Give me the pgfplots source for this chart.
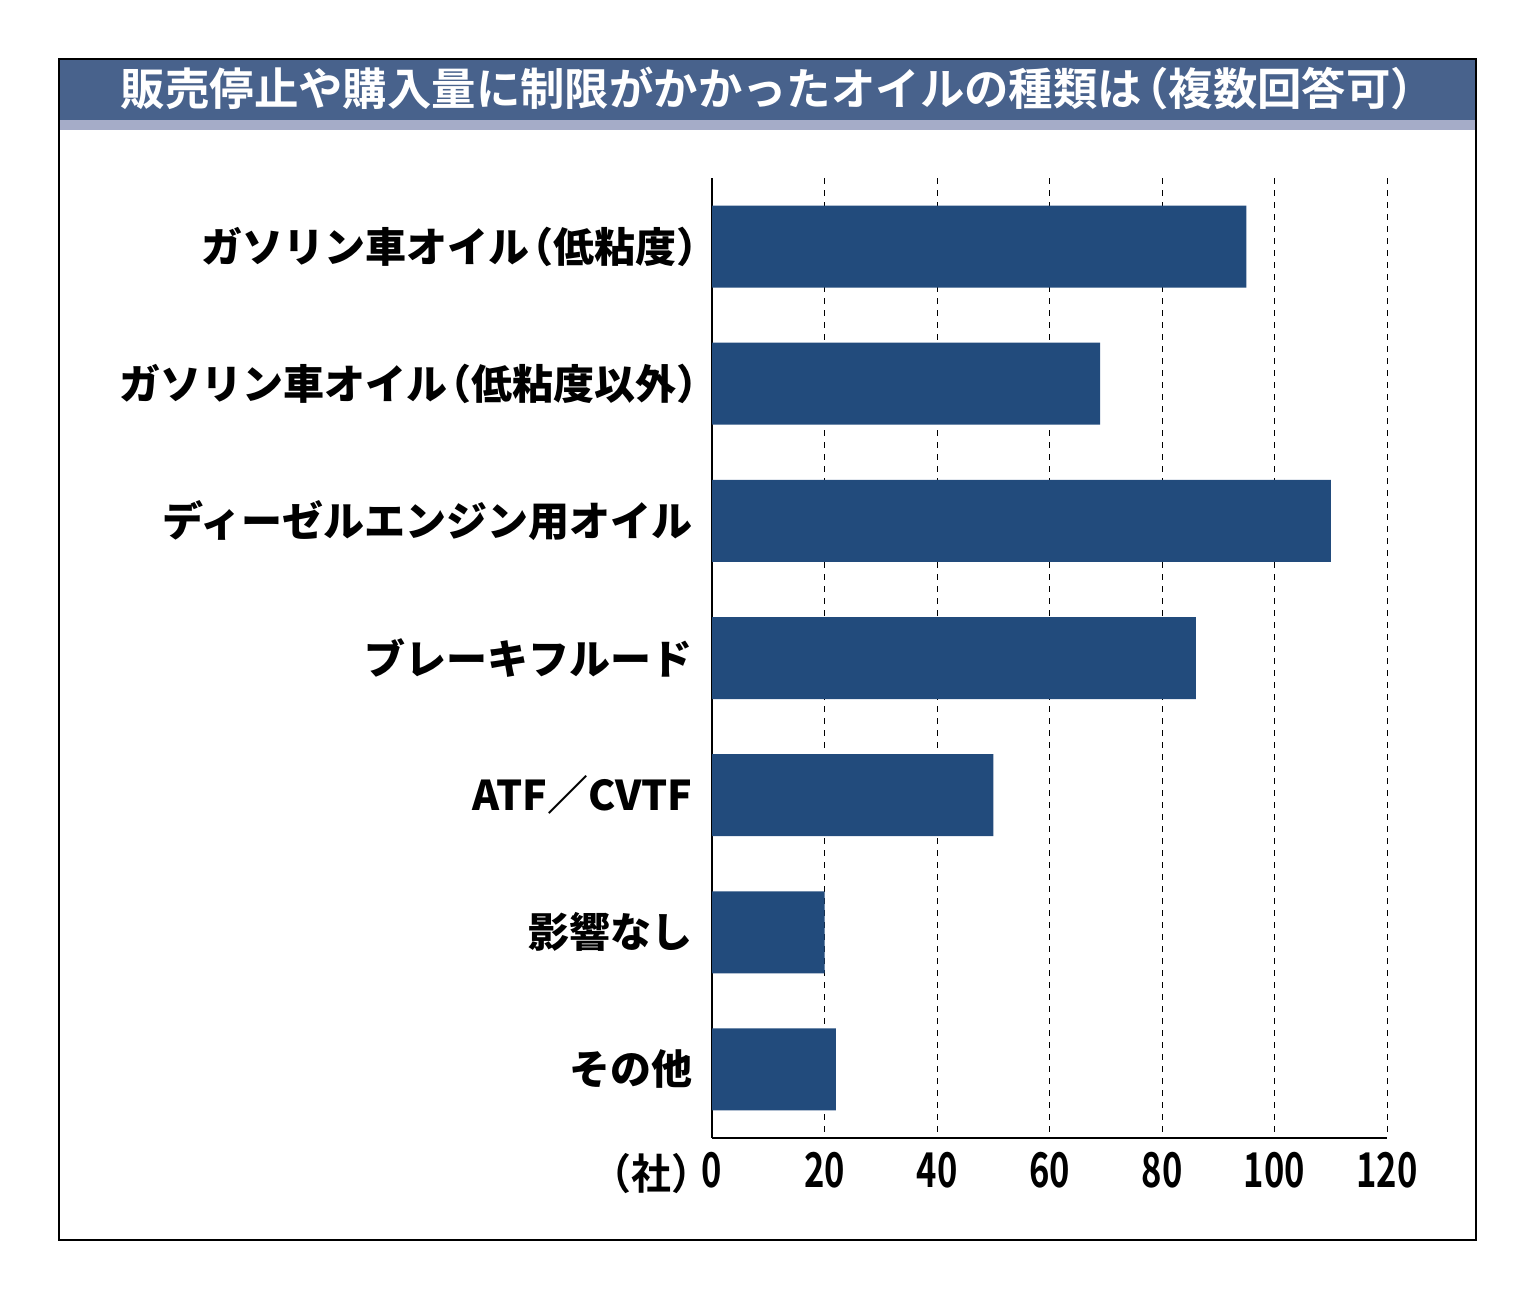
\documentclass[border=0pt]{standalone}
\usepackage{pgfplots}
\pgfplotsset{compat=1.18}
\usepackage{fontspec}
\setmainfont{Noto Sans CJK JP}
\newfontfamily\cjkb{Noto Sans CJK JP Bold}
\newfontfamily\cjkbh{Noto Sans CJK JP Bold}[RawFeature=+halt]
\newfontfamily\cjkk{Noto Sans CJK JP Black}
\definecolor{barblue}{RGB}{34,75,124}
\definecolor{titleblue}{RGB}{72,98,140}
\definecolor{titlelight}{RGB}{165,172,200}
\newcommand{\lp}{\kern-0.42em（}
\newcommand{\rp}{）\kern-0.6em}
\begin{document}
\begin{tikzpicture}[x=1pt,y=1pt]
\path[use as bounding box] (0,0) rectangle (767.5,649.5);
% title band
\fill[titleblue] (29.5,589.5) rectangle (738,620);
\fill[titlelight] (29.5,584.5) rectangle (738,589.5);
\draw[black,line width=0.8pt] (29.5,29.5) rectangle (738,620);
\node[white,font=\cjkb\fontsize{22.2}{24}\selectfont,inner sep=0pt] at (389,605) {販売停止や購入量に制限がかかったオイルの種類は\kern-0.4em（複数回答可）};
\begin{axis}[
  at={(356pt,80.5pt)}, anchor=south west,
  width=337.5pt, height=480pt, scale only axis,
  xmin=0, xmax=120, ymin=-0.5, ymax=6.5, y dir=reverse,
  axis x line=bottom, axis y line=left,
  axis line style={-, line width=0.8pt},
  xtick={0,20,40,60,80,100,120},
  ytick={0,1,2,3,4,5,6},
  yticklabels={ガソリン車オイル\lp 低粘度\rp,ガソリン車オイル\lp 低粘度以外\rp,ディーゼルエンジン用オイル,ブレーキフルード,ATF／CVTF,影響なし,その他},
  major tick length=0pt,
  xmajorgrids, grid style={black, dashed, line width=0.5pt},
  yticklabel style={font=\cjkk\fontsize{20.5}{24}\selectfont, anchor=east, inner sep=0pt, xshift=-9.5pt},
  xticklabel style={font=\cjkb\fontsize{24}{26}\selectfont, anchor=north, inner sep=0pt, yshift=-7pt, xscale=0.72},
  /pgf/number format/assume math mode=true,
  xbar, bar width=41pt,
  clip=false,
]
\addplot[fill=barblue, draw=none] coordinates {(95,0) (69,1) (110,2) (86,3) (50,4) (20,5) (22,6)};
\node[font=\cjkbh\fontsize{21}{26}\selectfont, anchor=north east, inner sep=0pt, xscale=0.95] at (axis cs:0,6.5) [xshift=-10.5pt, yshift=-7.5pt] {（社）};
\end{axis}
\end{tikzpicture}
\end{document}
